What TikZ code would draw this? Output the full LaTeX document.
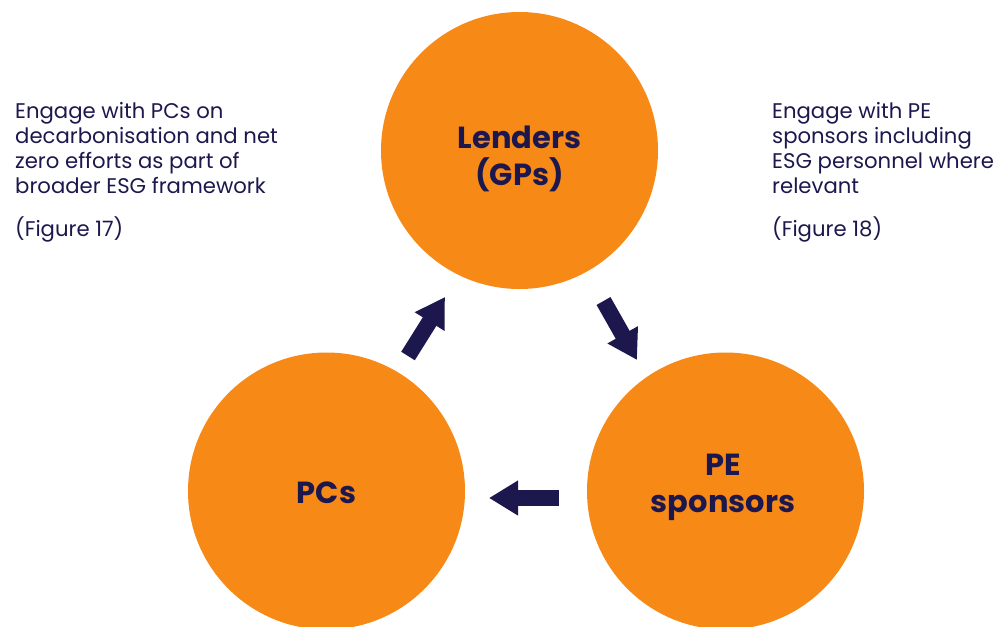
\documentclass[tikz,border=0pt]{standalone}
\usepackage{fontspec}
\setmainfont{Poppins}
\usetikzlibrary{arrows.meta}
\definecolor{orng}{RGB}{247,137,23}
\definecolor{navy}{RGB}{28,24,78}
\tikzset{
  hub/.style={circle, fill=orng, draw=none, minimum size=277pt, inner sep=0pt},
  hubtext/.style={text=navy, align=center, inner sep=0pt,
    font=\fontsize{30.5}{37}\selectfont\bfseries},
  note/.style={anchor=north west, inner sep=0pt, align=left, text=navy,
    font=\fontsize{21.2}{25}\selectfont},
  flow/.style={draw=navy, line width=16pt, line cap=butt,
    -{Triangle[width=33pt,length=29pt]}}
}
\begin{document}
\begin{tikzpicture}[x=1pt,y=-1pt]
\useasboundingbox (0,0) rectangle (997,627);
\clip (0,0) rectangle (997,627);
\node[hub] (lenders) at (519.5,150.5) {};
\node[hub] (pcs) at (326.5,491) {};
\node[hub] (pe) at (725.5,491) {};
\node[hubtext] (lenderstext) at (519.5,159) {Lenders\\(GPs)};
\node[hubtext] (pcstext) at (326.5,493) {PCs};
\node[hubtext] (petext) at (723,487.5) {PE\\sponsors};
\node[note] (leftnote) at (15,102) {Engage with PCs on\\decarbonisation and net\\zero efforts as part of\\broader ESG framework\\[18pt](Figure 17)};
\node[note] (rightnote) at (772,102) {Engage with PE\\sponsors including\\ESG personnel where\\relevant\\[18pt](Figure 18)};
\coordinate (a1s) at (408,356);
\coordinate (a1e) at (445,297);
\coordinate (a2s) at (603.5,301);
\coordinate (a2e) at (637,360);
\coordinate (a3s) at (559,498);
\coordinate (a3e) at (489,498);
\draw[flow] (a1s) -- (a1e);
\draw[flow] (a2s) -- (a2e);
\draw[flow] (a3s) -- (a3e);
\end{tikzpicture}
\end{document}
